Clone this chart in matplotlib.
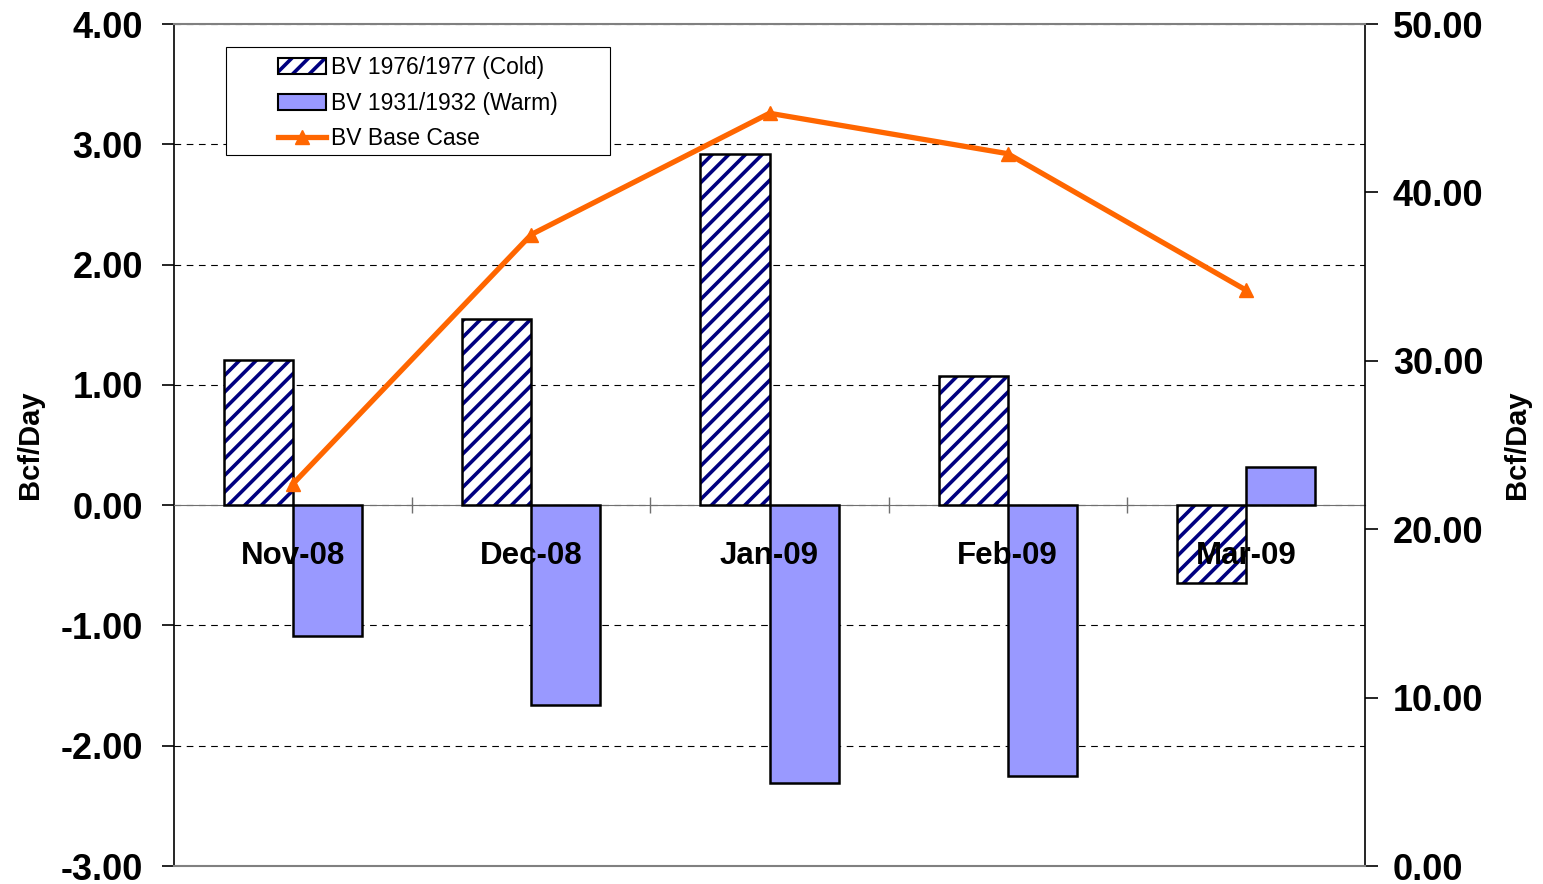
import matplotlib.pyplot as plt
from matplotlib.patches import Patch, Rectangle
from matplotlib.lines import Line2D
from matplotlib.legend_handler import HandlerTuple
from matplotlib.ticker import FormatStrFormatter
import numpy as np

plt.rcParams["font.family"] = ["Liberation Sans", "DejaVu Sans"]
plt.rcParams["hatch.linewidth"] = 2.6

months = ["Nov-08", "Dec-08", "Jan-09", "Feb-09", "Mar-09"]
cold = [1.21, 1.55, 2.92, 1.07, -0.65]
warm = [-1.09, -1.66, -2.31, -2.25, 0.32]
base = [22.7, 37.5, 44.7, 42.3, 34.2]

navy = "#000080"
blue = "#9999FF"
orange = "#FF6600"
width = 0.29

fig, ax = plt.subplots(figsize=(15.43, 8.84), dpi=100)
fig.subplots_adjust(left=174 / 1543, right=1365 / 1543,
                    top=1 - 24 / 884, bottom=1 - 866 / 884)
x = np.arange(len(months))

# hatched bars: hatch drawn in navy, outline drawn on top in black
ax.bar(x - width / 2, cold, width, color="white", edgecolor=navy,
       hatch="//", linewidth=0, zorder=2)
ax.bar(x - width / 2, cold, width, fill=False, edgecolor="black",
       linewidth=1.8, zorder=3)
ax.bar(x + width / 2, warm, width, color=blue, edgecolor="black",
       linewidth=1.8, zorder=3)

ax.set_xlim(-0.5, 4.5)
ax.set_ylim(-3, 4)
ax.set_yticks(np.arange(-3, 5, 1))
ax.yaxis.set_major_formatter(FormatStrFormatter("%.2f"))
ax.yaxis.grid(True, color="black", linestyle=(0, (6, 5)), linewidth=0.8)
ax.set_axisbelow(True)
ax.tick_params(axis="y", direction="out", length=9, width=1.2,
               labelsize=26, pad=13.5)
for lab in ax.get_yticklabels():
    lab.set_fontweight("bold")

ax.spines["bottom"].set_position(("data", 0))
ax.spines["bottom"].set_color("#707070")
ax.spines["top"].set_visible(False)
ax.spines["right"].set_visible(False)
ax.spines["left"].set_linewidth(1.2)
ax.set_xticks(x[:-1] + 0.5)
ax.set_xticklabels([])
ax.tick_params(axis="x", which="major", direction="inout", length=12,
               width=1, color="#707070")

# category labels sit on top of the bars
for xi, m in zip(x, months):
    ax.text(xi, -0.42, m, ha="center", va="center", fontsize=22.5,
            fontweight="bold", zorder=6)

ax.set_ylabel("Bcf/Day", fontsize=21, fontweight="bold", labelpad=12)

ax2 = ax.twinx()
ax2.plot(x, base, color=orange, linewidth=3.8, marker="^",
         markersize=10, zorder=5)
ax2.set_ylim(0, 50)
ax2.set_yticks(np.arange(0, 51, 10))
ax2.yaxis.set_major_formatter(FormatStrFormatter("%.2f"))
ax2.tick_params(axis="y", direction="out", length=9, width=1.2,
                labelsize=26, pad=11)
for lab in ax2.get_yticklabels():
    lab.set_fontweight("bold")
ax2.spines["left"].set_visible(False)
ax2.spines["right"].set_linewidth(1.2)
ax2.spines["top"].set_color("#808080")
ax2.spines["bottom"].set_color("#808080")
ax2.spines["top"].set_linewidth(1.5)
ax2.spines["bottom"].set_linewidth(1.5)
ax2.set_ylabel("Bcf/Day", fontsize=21, fontweight="bold", labelpad=14)

# legend box drawn separately so it can be wider than its entries
ax2.add_patch(Rectangle((0.0437, 0.8444), 0.3224, 0.1283,
                        transform=ax2.transAxes, facecolor="white",
                        edgecolor="black", linewidth=0.8, zorder=9))
h_cold = (Patch(facecolor="white", edgecolor=navy, hatch="//", linewidth=0),
          Patch(fill=False, edgecolor="black", linewidth=1.5))
h_warm = Patch(facecolor=blue, edgecolor="black", linewidth=1.5)
h_base = Line2D([], [], color=orange, linewidth=3.8, marker="^",
                markersize=10)
leg = ax2.legend([h_cold, h_warm, h_base],
                 ["BV 1976/1977 (Cold)", "BV 1931/1932 (Warm)",
                  "BV Base Case"],
                 handler_map={tuple: HandlerTuple(ndivide=1, pad=0)},
                 loc="upper left", bbox_to_anchor=(0.0796, 0.9727),
                 borderaxespad=0, fontsize=16.5, frameon=False,
                 handlelength=2.1, handletextpad=0.2, labelspacing=0.55,
                 borderpad=0.4)
leg.set_zorder(10)

plt.savefig("out.png", dpi=100)
